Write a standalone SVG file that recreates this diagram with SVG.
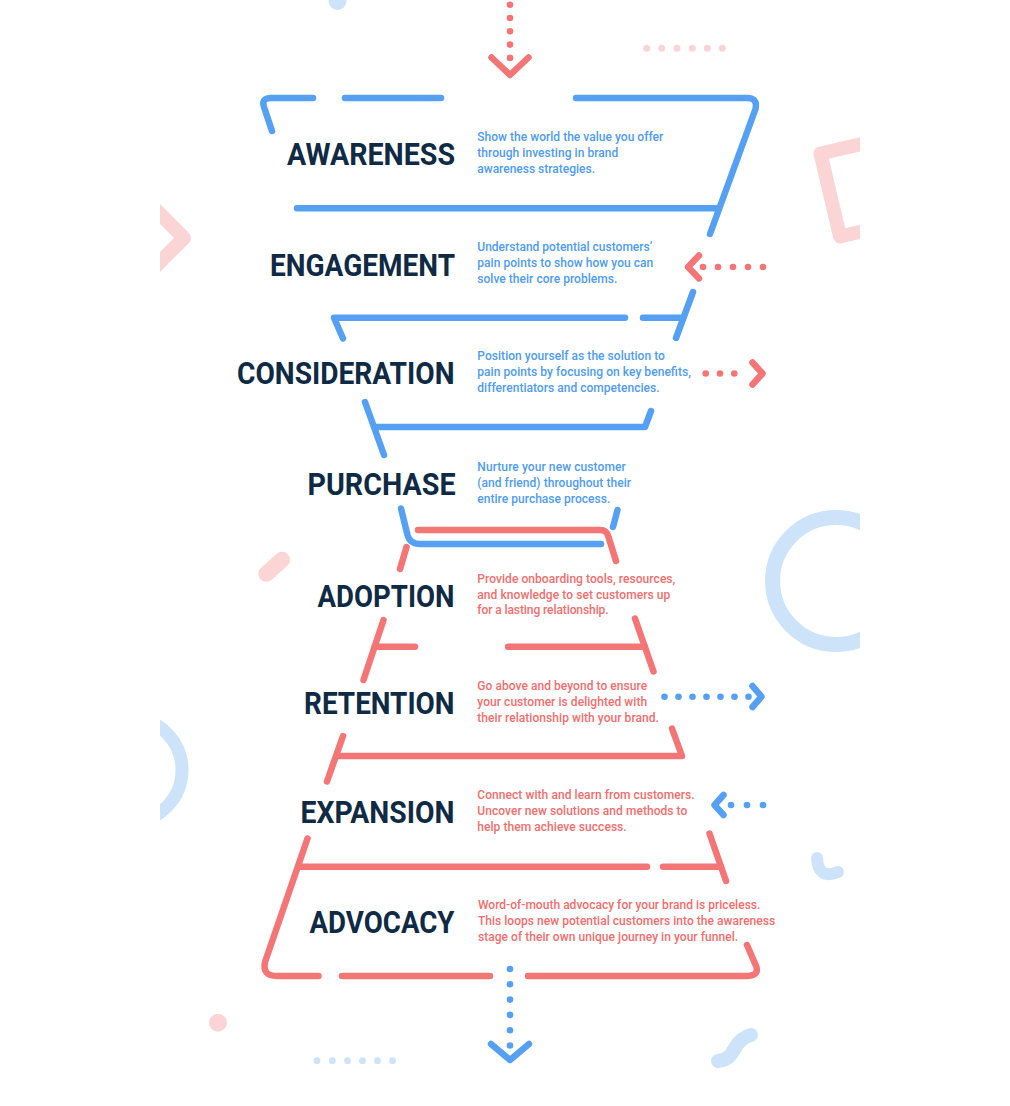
<svg xmlns="http://www.w3.org/2000/svg" width="1010" height="1106" viewBox="0 0 1010 1106">
<defs>
<clipPath id="clip"><rect x="160" y="0" width="700" height="1106"/></clipPath>
</defs>
<style>
.bl{fill:none;stroke:#55A0F2;stroke-width:6.5;stroke-linecap:round;stroke-linejoin:round}
.rd{fill:none;stroke:#F37575;stroke-width:6.5;stroke-linecap:round;stroke-linejoin:round}
.dotb{fill:#55A0F2}
.dotr{fill:#F37575}
.title{font-family:Roboto,"Liberation Sans",sans-serif;font-weight:700;font-size:32px;fill:#0F2A44}
.db{font-family:Roboto,"Liberation Sans",sans-serif;font-weight:500;font-size:12px;fill:#4F9BEF}
.dr{font-family:Roboto,"Liberation Sans",sans-serif;font-weight:500;font-size:12px;fill:#EF6E6E}
.pk{fill:none;stroke:#FBD5D5;stroke-linecap:round;stroke-linejoin:round}
.lb{fill:none;stroke:#CDE3F9;stroke-linecap:round;stroke-linejoin:round}
</style>
<rect width="1010" height="1106" fill="#FFFFFF"/>
<g id="decor" clip-path="url(#clip)">
<circle cx="337.5" cy="1" r="9" fill="#CDE3F9"/>
<g fill="#FBD5D5"><circle cx="646.7" cy="48.3" r="3.5"/><circle cx="661.7" cy="48.3" r="3.5"/><circle cx="677" cy="48.3" r="3.5"/><circle cx="692.3" cy="48.3" r="3.5"/><circle cx="707.3" cy="48.3" r="3.5"/><circle cx="722.3" cy="48.3" r="3.5"/></g>
<path class="pk" d="M130 184 L184 238 L130 292" stroke-width="14" stroke-linejoin="miter"/>
<path class="pk" d="M820.5 153.5 L840 236.5 L918 218.5 L898.4 135.5 Z" stroke-width="14"/>
<path class="pk" d="M266.3 573.7 L282 559.7" stroke-width="16"/>
<circle class="lb" cx="836" cy="581" r="63.4" stroke-width="15"/>
<circle class="lb" cx="130" cy="770" r="52" stroke-width="13"/>
<path class="lb" d="M817 858 Q818 880 838 872" stroke-width="12"/>
<circle cx="218" cy="1022.7" r="9" fill="#FBD5D5"/>
<g fill="#CDE3F9"><circle cx="317" cy="1060.7" r="3.4"/><circle cx="332.3" cy="1060.7" r="3.4"/><circle cx="347.5" cy="1060.7" r="3.4"/><circle cx="362.5" cy="1060.7" r="3.4"/><circle cx="377.5" cy="1060.7" r="3.4"/><circle cx="392.6" cy="1060.7" r="3.4"/></g>
<path class="lb" d="M718 1061 C728 1060 731 1055 735 1048 C739 1041 743 1037 751 1035" stroke-width="14"/>
</g>
<g id="awareness">
<path class="bl" d="M272 131 L264 107 Q261 98 271 98 H313"/>
<path class="bl" d="M345 98 H441"/>
<path class="bl" d="M576 98 H747 Q758 98 755.5 109 L710 234"/>
<path class="bl" d="M297 208.3 H718"/>
<text class="title" x="287" y="165" textLength="168" lengthAdjust="spacingAndGlyphs">AWARENESS</text>
<text class="db" x="477.3" y="141" textLength="186">Show the world the value you offer</text>
<text class="db" x="477.3" y="157.3" textLength="141">through investing in brand</text>
<text class="db" x="477.3" y="173.3" textLength="117.7">awareness strategies.</text>
</g>
<g id="engagement">
<path class="bl" d="M693 292 L676 338"/>
<path class="bl" d="M643 317.7 H683"/>
<path class="bl" d="M625 317.7 H334 L343 338.5"/>
<text class="title" x="270" y="275.5" textLength="185" lengthAdjust="spacingAndGlyphs">ENGAGEMENT</text>
<text class="db" x="477.3" y="251" textLength="175">Understand potential customers’</text>
<text class="db" x="477.3" y="267" textLength="176">pain points to show how you can</text>
<text class="db" x="477.3" y="283" textLength="140">solve their core problems.</text>
</g>
<g id="consideration">
<path class="bl" d="M365 402 L384 455"/>
<path class="bl" d="M375.5 427 H645 L651 411"/>
<text class="title" x="237" y="384" textLength="217.5" lengthAdjust="spacingAndGlyphs">CONSIDERATION</text>
<text class="db" x="477.3" y="360" textLength="187.6">Position yourself as the solution to</text>
<text class="db" x="477.3" y="376" textLength="213.6">pain points by focusing on key benefits,</text>
<text class="db" x="477.3" y="392" textLength="182.3">differentiators and competencies.</text>
</g>
<g id="purchase">
<path class="bl" d="M401 508.5 L407.5 535 Q410 544 420 544 H601"/>
<path class="bl" d="M617.5 510 L613 527"/>
<text class="title" x="307.5" y="494.5" textLength="148" lengthAdjust="spacingAndGlyphs">PURCHASE</text>
<text class="db" x="477.3" y="470.5" textLength="148.4">Nurture your new customer</text>
<text class="db" x="477.3" y="486.5" textLength="153.7">(and friend) throughout their</text>
<text class="db" x="477.3" y="502.5" textLength="133">entire purchase process.</text>
</g>
<g id="adoption">
<path class="rd" d="M418 530 H600 Q607 530 608.5 537 L616 561"/>
<path class="rd" d="M406.5 547 L400 569"/>
<path class="rd" d="M383.5 620 L363.5 680"/>
<path class="rd" d="M375 646.7 H415"/>
<path class="rd" d="M508 646.7 H644.7"/>
<path class="rd" d="M635 618.5 L653.5 671.5"/>
<text class="title" x="317.5" y="606.5" textLength="137" lengthAdjust="spacingAndGlyphs">ADOPTION</text>
<text class="dr" x="477.3" y="582.5" textLength="198">Provide onboarding tools, resources,</text>
<text class="dr" x="477.3" y="598.5" textLength="193">and knowledge to set customers up</text>
<text class="dr" x="477.3" y="614.3" textLength="131.3">for a lasting relationship.</text>
</g>
<g id="retention">
<path class="rd" d="M343 736 L327 781.5"/>
<path class="rd" d="M337 756 H682 L672 728.5"/>
<text class="title" x="304" y="713.5" textLength="150.5" lengthAdjust="spacingAndGlyphs">RETENTION</text>
<text class="dr" x="477.3" y="689.5" textLength="169.8">Go above and beyond to ensure</text>
<text class="dr" x="477.3" y="705.5" textLength="169.8">your customer is delighted with</text>
<text class="dr" x="477.3" y="721.5" textLength="181.6">their relationship with your brand.</text>
</g>
<g id="expansion">
<path class="rd" d="M709.5 833.5 L726 881"/>
<path class="rd" d="M663 866.7 H720.5"/>
<path class="rd" d="M299 866.7 H647"/>
<text class="title" x="300.5" y="823" textLength="154" lengthAdjust="spacingAndGlyphs">EXPANSION</text>
<text class="dr" x="477.3" y="798.8" textLength="217.3">Connect with and learn from customers.</text>
<text class="dr" x="477.3" y="814.6" textLength="210">Uncover new solutions and methods to</text>
<text class="dr" x="477.3" y="830.5" textLength="149.4">help them achieve success.</text>
</g>
<g id="advocacy">
<path class="rd" d="M307.5 838.5 L265 962 Q262 976 277 976 H318.5"/>
<path class="rd" d="M342 976 H490"/>
<path class="rd" d="M528 976 H746 Q759 976 756.5 967 L747 945"/>
<text class="title" x="309.5" y="933" textLength="145" lengthAdjust="spacingAndGlyphs">ADVOCACY</text>
<text class="dr" x="477.9" y="909" textLength="282.5">Word-of-mouth advocacy for your brand is priceless.</text>
<text class="dr" x="477.9" y="925" textLength="297.3">This loops new potential customers into the awareness</text>
<text class="dr" x="477.9" y="941" textLength="260.2">stage of their own unique journey in your funnel.</text>
</g>
<g id="connectors">
<g id="arrow-in-top">
<circle class="dotr" cx="510" cy="4.7" r="3.3"/><circle class="dotr" cx="510" cy="18" r="3.3"/><circle class="dotr" cx="510" cy="31.3" r="3.3"/><circle class="dotr" cx="510" cy="44.6" r="3.3"/><circle class="dotr" cx="510" cy="57.9" r="3.3"/>
<path class="rd" d="M491.5 57.5 L510 75 L528.5 57.5"/>
</g>
<g id="arrow-engagement">
<path class="rd" d="M699 255.5 L688 267 L699 278.5"/>
<circle class="dotr" cx="703" cy="267" r="3.3"/><circle class="dotr" cx="718" cy="267" r="3.3"/><circle class="dotr" cx="733" cy="267" r="3.3"/><circle class="dotr" cx="748" cy="267" r="3.3"/><circle class="dotr" cx="763" cy="267" r="3.3"/>
</g>
<g id="arrow-consideration">
<circle class="dotr" cx="705.7" cy="373.5" r="3.3"/><circle class="dotr" cx="720" cy="373.5" r="3.3"/><circle class="dotr" cx="734.3" cy="373.5" r="3.3"/>
<path class="rd" d="M752.5 362.5 L762.5 373.5 L752.5 384.5"/>
</g>
<g id="arrow-retention">
<circle class="dotb" cx="664.5" cy="696.7" r="3.3"/><circle class="dotb" cx="678.5" cy="696.7" r="3.3"/><circle class="dotb" cx="692.5" cy="696.7" r="3.3"/><circle class="dotb" cx="706.5" cy="696.7" r="3.3"/><circle class="dotb" cx="720.5" cy="696.7" r="3.3"/><circle class="dotb" cx="734.5" cy="696.7" r="3.3"/><circle class="dotb" cx="748.5" cy="696.7" r="3.3"/>
<path class="bl" d="M752.5 686 L761.5 696.7 L752.5 707"/>
</g>
<g id="arrow-expansion">
<path class="bl" d="M723.5 795 L714.5 805 L723.5 815"/>
<circle class="dotb" cx="731" cy="805" r="3.3"/><circle class="dotb" cx="747" cy="805" r="3.3"/><circle class="dotb" cx="763" cy="805" r="3.3"/>
</g>
<g id="arrow-out-bottom">
<circle class="dotb" cx="510" cy="969" r="3.3"/><circle class="dotb" cx="510" cy="984.3" r="3.3"/><circle class="dotb" cx="510" cy="999.6" r="3.3"/><circle class="dotb" cx="510" cy="1014.9" r="3.3"/><circle class="dotb" cx="510" cy="1030.2" r="3.3"/><circle class="dotb" cx="510" cy="1045.5" r="3.3"/>
<path class="bl" d="M491 1044 L510 1060 L529 1044"/>
</g>
</g>
</svg>
